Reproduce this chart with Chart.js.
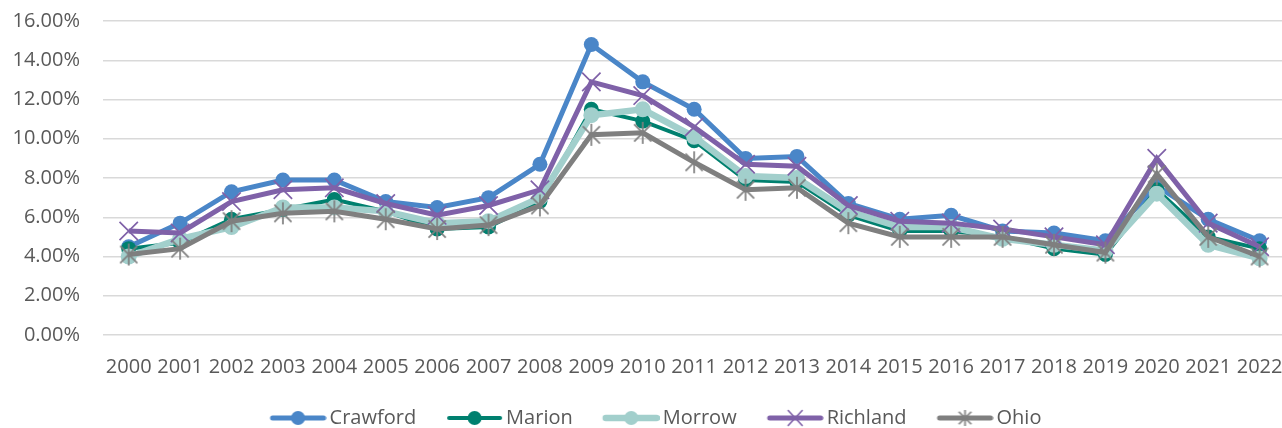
<!DOCTYPE html>
<html>
<head>
<meta charset="utf-8">
<script src="https://cdn.jsdelivr.net/npm/chart.js@4.4.1/dist/chart.umd.min.js"></script>
<style>
  html, body { margin: 0; padding: 0; overflow: hidden; background: #fff; }
  #caixa { width: 1300px; height: 428px; }
</style>
</head>
<body>
<div id="caixa"><canvas id="grafico" width="1300" height="428"></canvas></div>
<script>
// dados (taxa de desemprego, %)
const anos = ['2000','2001','2002','2003','2004','2005','2006','2007','2008','2009','2010',
  '2011','2012','2013','2014','2015','2016','2017','2018','2019','2020','2021','2022'];

const crawford = [4.5, 5.7, 7.3, 7.9, 7.9, 6.8, 6.5, 7.0, 8.7, 14.8, 12.9, 11.5, 9.0, 9.1, 6.7, 5.9, 6.1, 5.3, 5.2, 4.8, 7.6, 5.9, 4.8];
const marion   = [4.4, 4.7, 5.9, 6.4, 6.9, 6.3, 5.4, 5.5, 6.8, 11.5, 10.9, 9.9, 7.9, 7.8, 6.1, 5.3, 5.3, 5.0, 4.4, 4.1, 7.4, 5.0, 4.4];
const morrow   = [4.0, 4.9, 5.5, 6.5, 6.5, 6.3, 5.7, 5.8, 7.0, 11.2, 11.5, 10.1, 8.1, 8.0, 6.3, 5.5, 5.5, 4.9, 4.6, 4.3, 7.2, 4.6, 3.9];
const richland = [5.3, 5.2, 6.8, 7.4, 7.5, 6.7, 6.1, 6.6, 7.4, 12.9, 12.2, 10.6, 8.7, 8.6, 6.6, 5.8, 5.7, 5.4, 5.0, 4.6, 9.0, 5.7, 4.5];
const ohio     = [4.1, 4.4, 5.8, 6.2, 6.3, 5.9, 5.4, 5.6, 6.6, 10.2, 10.3, 8.8, 7.4, 7.5, 5.7, 5.0, 5.0, 5.0, 4.6, 4.2, 8.2, 5.0, 4.0];

const nomes = ['Crawford', 'Marion', 'Morrow', 'Richland', 'Ohio'];

const cores = {
  Crawford: '#4a86c8',
  Marion: '#00806f',
  Morrow: '#a2cfcc',
  Richland: '#7f61a8',
  Ohio: '#7f7f7f'
};

// marcador asterisco (x + traço vertical), igual ao do Excel
function asterisco(cor, r) {
  const c = document.createElement('canvas');
  c.width = r * 2 + 2; c.height = r * 2 + 2;
  const g = c.getContext('2d');
  const m = r + 1;
  const d = r * 0.78;
  g.strokeStyle = cor; g.lineWidth = 1.7;
  g.beginPath();
  g.moveTo(m - d, m - d); g.lineTo(m + d, m + d);
  g.moveTo(m + d, m - d); g.lineTo(m - d, m + d);
  g.moveTo(m, m - r); g.lineTo(m, m + r);
  g.stroke();
  return c;
}

// ícone da legenda: linha com o marcador no meio (deslocado para a direita da imagem)
const recuo = 29;
function iconeLegenda(cor, tipo, espessura) {
  const c = document.createElement('canvas');
  c.width = recuo + 57; c.height = 20;
  const g = c.getContext('2d');
  const cx = recuo + 28.5;
  g.strokeStyle = cor; g.fillStyle = cor; g.lineCap = 'round';
  g.lineWidth = espessura;
  g.beginPath(); g.moveTo(recuo + 3, 10); g.lineTo(recuo + 54, 10); g.stroke();
  g.lineWidth = 1.6;
  if (tipo === 'circulo') {
    g.beginPath(); g.arc(cx, 10, 7, 0, Math.PI * 2); g.fill();
  } else if (tipo === 'x') {
    g.beginPath();
    g.moveTo(cx - 7, 2.5); g.lineTo(cx + 7, 17.5);
    g.moveTo(cx + 7, 2.5); g.lineTo(cx - 7, 17.5);
    g.stroke();
  } else {
    g.drawImage(asterisco(cor, 8), cx - 9, 10 - 9);
  }
  return c;
}

const estiloSerie = {
  Crawford: { dados: crawford, largura: 5, raio: 7.5, ponto: 'circle', icone: 'circulo', ordem: 5 },
  Marion:   { dados: marion,   largura: 4, raio: 7.5, ponto: 'circle', icone: 'circulo', ordem: 4 },
  Morrow:   { dados: morrow,   largura: 6.5, raio: 8, ponto: 'circle', icone: 'circulo', ordem: 3 },
  Richland: { dados: richland, largura: 5, raio: 13, ponto: 'crossRot', icone: 'x', ordem: 2 },
  Ohio:     { dados: ohio,     largura: 5, raio: 11, ponto: asterisco(cores.Ohio, 11), icone: 'asterisco', ordem: 1 }
};

const conjuntos = nomes.map(nome => {
  const s = estiloSerie[nome];
  return {
    label: nome,
    data: s.dados,
    borderColor: cores[nome],
    backgroundColor: cores[nome],
    borderWidth: s.largura,
    tension: 0,
    pointStyle: s.ponto,
    pointRadius: s.raio,
    pointHoverRadius: s.raio,
    pointBorderWidth: s.ponto === 'circle' ? 0 : 1.7,
    pointBorderColor: cores[nome],
    pointBackgroundColor: cores[nome],
    order: s.ordem,
    iconeLegenda: iconeLegenda(cores[nome], s.icone, s.largura)
  };
});

Chart.defaults.font.family = "'Open Sans', sans-serif";
Chart.defaults.font.size = 20;
Chart.defaults.color = '#595959';

// reposiciona a legenda (centro e altura do texto como no original)
const ajusteLegenda = {
  id: 'ajusteLegenda',
  beforeDraw(chart) {
    const lg = chart.legend;
    lg.left = 0;
    lg.right = 1289;
    lg.top = 418 - lg.options.labels.padding - 10;
  }
};

const grafico = new Chart(document.getElementById('grafico'), {
  type: 'line',
  data: { labels: anos, datasets: conjuntos },
  options: {
    responsive: false,
    animation: false,
    layout: { padding: { top: 21, right: 12, left: 0, bottom: 0 } },
    scales: {
      x: {
        offset: true,
        grid: { display: false },
        border: { display: false },
        ticks: { autoSkip: false, maxRotation: 0, padding: 12, color: '#595959' },
        afterFit(scale) {
          scale.height = 55;
          scale.paddingLeft = 0;
          scale.paddingRight = 0;
        }
      },
      y: {
        min: 0,
        max: 16,
        border: { display: false },
        grid: { color: '#d9d9d9', lineWidth: 1.5, drawTicks: false },
        ticks: {
          stepSize: 2,
          padding: 23,
          color: '#595959',
          callback: v => v.toFixed(2) + '%'
        },
        afterFit(scale) {
          scale.width = 103;
          scale.paddingTop = 0;
          scale.paddingBottom = 0;
        }
      }
    },
    plugins: {
      tooltip: { enabled: false },
      legend: {
        position: 'bottom',
        labels: {
          usePointStyle: true,
          pointStyleWidth: 72,
          padding: 8,
          color: '#595959',
          sort: (a, b) => a.datasetIndex - b.datasetIndex,
          generateLabels(chart) {
            return chart.data.datasets.map((ds, i) => ({
              text: ds.label,
              datasetIndex: i,
              pointStyle: ds.iconeLegenda,
              fillStyle: ds.borderColor,
              strokeStyle: ds.borderColor,
              lineWidth: 0,
              fontColor: '#595959',
              hidden: false
            }));
          }
        }
      }
    }
  },
  plugins: [ajusteLegenda]
});
</script>
</body>
</html>
